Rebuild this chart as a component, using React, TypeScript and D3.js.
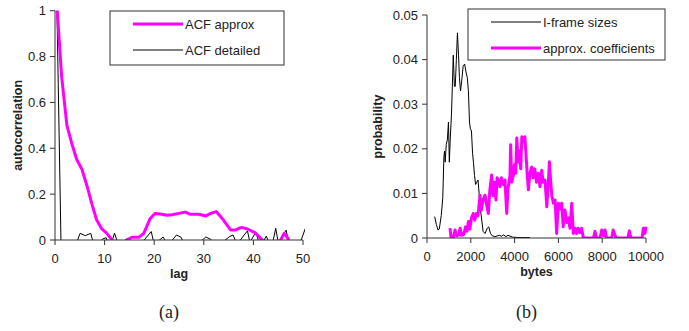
import React from 'react';
import * as d3 from 'd3';

// (a) autocorrelation
const acfApproxLag = [0.45, 1.35, 2.4, 3.4, 4.4, 5.4, 6.4, 7.4, 8.4, 9.4, 10.4, 11.5, 12.5, 13.5, 14.5, 15.5, 16.9, 17.9, 19.2, 20.2, 21.2, 22.6, 23.6, 25, 26.3, 27.3, 29, 30.4, 31.4, 32.5, 33.7, 35.4, 36.4, 37.6, 38.8, 40.3, 41.8, 43, 44.5, 45.5, 46.2, 47.2];
const acfApproxVal = [1.0, 0.71, 0.5, 0.42, 0.35, 0.31, 0.24, 0.16, 0.087, 0.05, 0.03, 0, -0.03, -0.02, 0, 0.012, 0.012, 0.029, 0.094, 0.116, 0.113, 0.108, 0.11, 0.116, 0.122, 0.112, 0.112, 0.105, 0.116, 0.124, 0.094, 0.044, 0.044, 0.055, 0.048, 0.032, 0, -0.03, -0.02, 0, 0.029, 0];

const acfDetailLag = [0.4, 1.2, 1.6, 2.6, 3.6, 4.4, 5.05, 6.1, 7.2, 7.7, 8.7, 9.6, 10.3, 10.7, 11.5, 12.0, 12.6, 13.6, 14.5, 15.1, 16.2, 17.6, 19.4, 19.9, 20.8, 21.8, 22.3, 23.3, 24.5, 25.4, 25.9, 27.2, 28.6, 29.6, 30.4, 31.3, 31.8, 33, 34.2, 35.2, 35.9, 36.4, 37.3, 38.8, 39.3, 40.5, 41.1, 41.9, 42.6, 43.1, 43.9, 44.5, 45.0, 46.6, 47.1, 48.3, 49.6, 50.6];
const acfDetailVal = [1.0, 0, -0.05, -0.03, -0.02, -0.01, 0.029, 0.019, 0.029, -0.01, -0.02, 0.004, 0.01, -0.01, -0.005, 0.03, -0.01, -0.01, 0.005, -0.01, -0.02, -0.01, 0.037, -0.01, -0.005, 0.013, -0.005, -0.01, 0.022, 0.012, -0.01, -0.02, -0.02, -0.002, 0.013, 0.004, -0.005, -0.02, -0.002, 0.015, 0.022, -0.005, -0.002, 0.04, -0.01, 0.035, -0.01, -0.01, 0.017, -0.01, -0.01, 0.051, -0.01, 0.043, -0.01, -0.03, -0.002, 0.058];

const lagTicks = [0, 10, 20, 30, 40, 50];
const acfTicks = [0, 0.2, 0.4, 0.6, 0.8, 1];

// (b) size distribution
const iframeBytes = [350, 430, 500, 560, 650, 720, 770, 800, 830, 880, 930, 980, 1020, 1060, 1120, 1200, 1250, 1290, 1340, 1390, 1440, 1480, 1530, 1580, 1650, 1720, 1790, 1840, 1890, 1940, 1980, 2030, 2080, 2120, 2170, 2220, 2270, 2330, 2380, 2440, 2500, 2560, 2650, 2750, 2820, 2900, 2980, 3100, 3300, 3400, 3500, 3600, 3700, 3900, 4200, 4700];
const iframeProb = [0.0048, 0.003, 0.0018, 0.002, 0.005, 0.009, 0.018, 0.0195, 0.017, 0.021, 0.022, 0.026, 0.017, 0.022, 0.028, 0.041, 0.034, 0.034, 0.04, 0.046, 0.041, 0.036, 0.033, 0.035, 0.0385, 0.039, 0.037, 0.036, 0.033, 0.026, 0.0245, 0.024, 0.019, 0.017, 0.014, 0.012, 0.0125, 0.013, 0.01, 0.0065, 0.004, 0.0015, 0.001, 0.0022, 0.0025, 0.001, 0.0005, 0.0003, 0.0006, 0.0004, 0.0007, 0.0003, 0.0006, 0.0002, 0.0001, 0.0001];

const approxBytes = [1050, 1100, 1200, 1280, 1350, 1450, 1510, 1580, 1680, 1760, 1830, 1890, 1960, 2030, 2110, 2180, 2260, 2330, 2420, 2480, 2560, 2650, 2720, 2800, 2870, 2950, 3010, 3080, 3150, 3200, 3260, 3330, 3400, 3480, 3560, 3640, 3700, 3790, 3820, 3870, 3940, 4000, 4050, 4100, 4160, 4220, 4280, 4330, 4400, 4470, 4530, 4580, 4630, 4700, 4780, 4850, 4920, 5000, 5080, 5160, 5240, 5300, 5390, 5470, 5540, 5590, 5650, 5700, 5770, 5850, 5920, 6000, 6080, 6150, 6220, 6300, 6380, 6450, 6530, 6610, 6680, 6760, 6830, 6900, 6980, 7060, 7140, 7600, 7670, 7740, 7900, 7980, 8060, 8130, 8200, 8430, 8500, 8570, 8640, 9170, 9240, 9310, 9820, 9880, 9950, 10000];
const approxProb = [0.0022, 0, 0, 0.0018, 0.0005, 0.0007, 0.0022, 0.0006, 0.0008, 0.0025, 0.0015, 0.0037, 0.002, 0.0045, 0.0055, 0.004, 0.0055, 0.005, 0.0096, 0.0062, 0.0085, 0.0096, 0.0075, 0.0055, 0.0108, 0.0141, 0.0095, 0.0125, 0.0085, 0.0135, 0.013, 0.0115, 0.0135, 0.012, 0.013, 0.0055, 0.011, 0.0141, 0.0209, 0.0125, 0.014, 0.0165, 0.0145, 0.0224, 0.017, 0.0195, 0.0155, 0.0227, 0.0215, 0.0227, 0.018, 0.014, 0.0108, 0.0145, 0.0159, 0.0135, 0.0155, 0.0125, 0.0145, 0.0115, 0.0152, 0.0125, 0.013, 0.007, 0.0124, 0.0171, 0.0125, 0.0095, 0.0078, 0.0085, 0.001, 0.0078, 0.0065, 0.0078, 0.0025, 0.0063, 0.0035, 0.0045, 0.0022, 0.0078, 0.001, 0.0022, 0.001, 0.0022, 0.0012, 0.0022, 0, 0, 0.0015, 0, 0, 0.0018, 0.0005, 0.0018, 0, 0, 0.0018, 0.0008, 0, 0, 0.0016, 0, 0, 0.0022, 0.001, 0.0025];

const byteTicks = [0, 2000, 4000, 6000, 8000, 10000];
const probTicks = [0, 0.01, 0.02, 0.03, 0.04, 0.05];

const FONT = '"Liberation Sans", Arial, sans-serif';
const MAGENTA = '#ff00ff';
const AXIS = '#333';

type Pt = [number, number];
const zip = (a: number[], b: number[]): Pt[] => a.map((v, i) => [v, b[i]]);

function Panel(props: {
  id: string;
  x: d3.ScaleLinear<number, number>;
  y: d3.ScaleLinear<number, number>;
  xTicks: number[];
  yTicks: number[];
  yFmt: (v: number) => string;
  xTitle: string;
  yTitle: string;
  yTitleX: number;
  caption: string;
  series: { pts: Pt[]; color: string; width: number }[];
  legend: { x: number; y: number; w: number; h: number; items: { label: string; color: string; width: number }[] };
}) {
  const { id, x, y, xTicks, yTicks, yFmt } = props;
  const [x0, x1] = x.range();
  const [y0, y1] = y.range();
  const line = d3.line<Pt>().x(d => x(d[0])).y(d => y(d[1]));
  const lg = props.legend;
  return (
    <g>
      <defs>
        <clipPath id={id}>
          <rect x={x0} y={y1 - 2} width={x1 - x0 + 2} height={y0 - y1 + 2} />
        </clipPath>
      </defs>
      <g clipPath={`url(#${id})`}>
        {props.series.map((s, i) => (
          <path key={i} d={line(s.pts) || ''} fill="none" stroke={s.color} strokeWidth={s.width} strokeLinejoin="round" />
        ))}
      </g>
      <line x1={x0} x2={x0} y1={y0} y2={y1} stroke={AXIS} />
      <line x1={x0} x2={x1} y1={y0} y2={y0} stroke={AXIS} />
      {yTicks.map(t => (
        <g key={t}>
          <line x1={x0 - 5} x2={x0} y1={y(t)} y2={y(t)} stroke={AXIS} />
          <text x={x0 - 9} y={y(t)} dy="0.35em" textAnchor="end" fontSize={13} fontFamily={FONT} fill="#222">{yFmt(t)}</text>
        </g>
      ))}
      {xTicks.map(t => (
        <g key={t}>
          <line x1={x(t)} x2={x(t)} y1={y0} y2={y0 + 5} stroke={AXIS} />
          <text x={x(t)} y={y0 + 23} textAnchor="middle" fontSize={13} fontFamily={FONT} fill="#222">{t}</text>
        </g>
      ))}
      <text x={(x0 + x1) / 2} y={y0 + 38} textAnchor="middle" fontSize={12.5} fontWeight="bold" fontFamily={FONT} fill="#222">{props.xTitle}</text>
      <text transform={`translate(${props.yTitleX},${(y0 + y1) / 2}) rotate(-90)`} textAnchor="middle" dy="0.35em" fontSize={12.5} fontWeight="bold" fontFamily={FONT} fill="#222">{props.yTitle}</text>
      <text x={(x0 + x1) / 2 - 10} y={318} textAnchor="middle" fontSize={18} fontFamily='"Liberation Serif", "Times New Roman", serif' fill="#222">{props.caption}</text>
      <rect x={lg.x} y={lg.y} width={lg.w} height={lg.h} fill="white" stroke={AXIS} />
      {lg.items.map((it, i) => {
        const ly = lg.y + 13 + i * 26;
        return (
          <g key={it.label}>
            <line x1={lg.x + 23} x2={lg.x + 73} y1={ly} y2={ly} stroke={it.color} strokeWidth={it.width} />
            <text x={lg.x + 75} y={ly} dy="0.35em" fontSize={13} fontFamily={FONT} fill="#222">{it.label}</text>
          </g>
        );
      })}
    </g>
  );
}

export default function App() {
  const xa = d3.scaleLinear().domain([0, 50]).range([55, 303]);
  const ya = d3.scaleLinear().domain([0, 1]).range([240, 10.7]);
  const xb = d3.scaleLinear().domain([0, 10000]).range([427, 646]);
  const yb = d3.scaleLinear().domain([0, 0.05]).range([238, 15]);
  return (
    <div style={{ position: 'absolute', left: 0, top: 0 }}>
      <svg width={689} height={331} style={{ display: 'block', background: 'white' }}>
        <Panel
          id="clipA"
          x={xa}
          y={ya}
          xTicks={lagTicks}
          yTicks={acfTicks}
          yFmt={v => String(v)}
          xTitle="lag"
          yTitle="autocorrelation"
          yTitleX={18}
          caption="(a)"
          series={[
            { pts: zip(acfDetailLag, acfDetailVal), color: '#000', width: 1 },
            { pts: zip(acfApproxLag, acfApproxVal), color: MAGENTA, width: 3 },
          ]}
          legend={{
            x: 110, y: 11, w: 174, h: 54,
            items: [
              { label: 'ACF approx', color: MAGENTA, width: 3 },
              { label: 'ACF detailed', color: '#000', width: 1 },
            ],
          }}
        />
        <Panel
          id="clipB"
          x={xb}
          y={yb}
          xTicks={byteTicks}
          yTicks={probTicks}
          yFmt={v => String(v)}
          xTitle="bytes"
          yTitle="probability"
          yTitleX={378}
          caption="(b)"
          series={[
            { pts: zip(iframeBytes, iframeProb), color: '#000', width: 1 },
            { pts: zip(approxBytes, approxProb), color: MAGENTA, width: 3 },
          ]}
          legend={{
            x: 468, y: 9, w: 197, h: 51,
            items: [
              { label: 'I-frame sizes', color: '#000', width: 1 },
              { label: 'approx. coefficients', color: MAGENTA, width: 3 },
            ],
          }}
        />
      </svg>
    </div>
  );
}
